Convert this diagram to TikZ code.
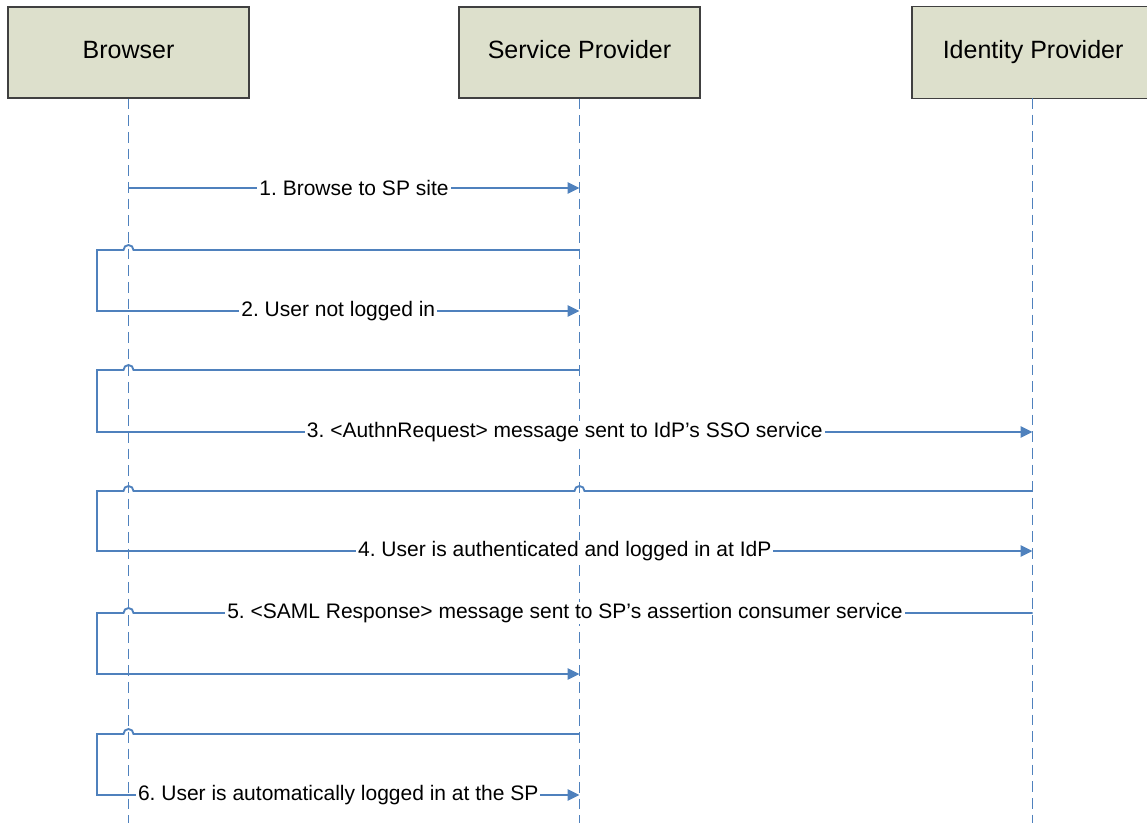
\documentclass[tikz,border=0pt]{standalone}
\usepackage{fontspec}
\setmainfont{Liberation Sans}
\frenchspacing
\usetikzlibrary{arrows.meta,calc}

\definecolor{actorfill}{RGB}{221,224,204}
\definecolor{lineblue}{RGB}{79,129,189}

\tikzset{
	actor/.style={draw=black!75, line width=0.9pt, fill=actorfill,
		minimum width=180.75pt, minimum height=68.25pt,
		text height=13.5pt, text depth=4pt,
		font=\fontsize{18.75pt}{22pt}\selectfont},
	lifeline/.style={draw=lineblue, line width=1.4pt, dash pattern=on 8pt off 4.5pt},
	msg/.style={draw=lineblue, line width=1.4pt, -{Triangle[length=9pt,width=8.5pt]}},
	msglabel/.style={fill=white, inner xsep=1.5pt, inner ysep=1pt,
		font=\fontsize{15.75pt}{19pt}\selectfont},
}

\begin{document}
\begin{tikzpicture}[x=0.75pt,y=-0.75pt]
	\useasboundingbox (0,0) rectangle (1147,823);
	\clip (0,0) rectangle (1147,823);
	% participants
	\node[actor] (browser) at (128.5,52.5) {Browser};
	\node[actor] (sp) at (579.5,52.5) {Service Provider};
	\node[actor, draw=none, minimum width=195pt, anchor=west] (idp) at (912,52.5) {\hspace*{-14.25pt}Identity Provider};
	\draw[black!75, line width=0.9pt] (idp.north east) -- (idp.north west) -- (idp.south west) -- (idp.south east);
	\coordinate (idpline) at (1032.5,98);
	\foreach \p in {browser.south,sp.south,idpline}
		\draw[lifeline] (\p) -- (\p |- 0,823);
	% messages
	\draw[msg] (browser |- 0,188) -- node[msglabel]{1. Browse to SP site} (sp |- 0,188);
	\draw[msg] (sp |- 0,250) -- ($(browser |- 0,250)+(5,0)$) arc[start angle=0,end angle=180,radius=3.75pt]
		-- (97,250) -- (97,311) -- node[msglabel]{2. User not logged in} (sp |- 0,311);
	\draw[msg] (sp |- 0,370) -- ($(browser |- 0,370)+(5,0)$) arc[start angle=0,end angle=180,radius=3.75pt]
		-- (97,370) -- (97,432) -- node[msglabel]{3. <AuthnRequest> message sent to IdP’s SSO service} (idpline |- 0,432);
	\draw[msg] (idpline |- 0,491) -- ($(sp |- 0,491)+(5,0)$) arc[start angle=0,end angle=180,radius=3.75pt]
		-- ($(browser |- 0,491)+(5,0)$) arc[start angle=0,end angle=180,radius=3.75pt]
		-- (97,491) -- (97,551) -- node[msglabel]{4. User is authenticated and logged in at IdP} (idpline |- 0,551);
	\draw[msg] (idpline |- 0,613) -- node[msglabel,pos=0.52]{5. <SAML Response> message sent to SP’s assertion consumer service}
		($(browser |- 0,613)+(5,0)$) arc[start angle=0,end angle=180,radius=3.75pt]
		-- (97,613) -- (97,674) -- (sp |- 0,674);
	\draw[msg] (sp |- 0,734) -- ($(browser |- 0,734)+(5,0)$) arc[start angle=0,end angle=180,radius=3.75pt]
		-- (97,734) -- (97,795) -- node[msglabel]{6. User is automatically logged in at the SP} (sp |- 0,795);
\end{tikzpicture}
\end{document}
